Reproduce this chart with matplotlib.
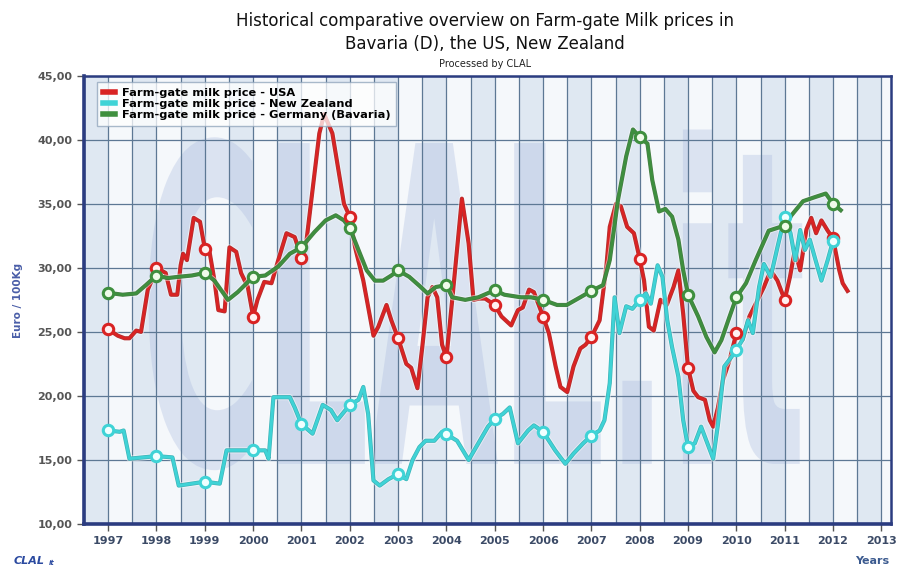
import numpy as np
import matplotlib
matplotlib.use("Agg")
import matplotlib.pyplot as plt
import matplotlib.patheffects as pe
from matplotlib.textpath import TextPath
from matplotlib.patches import PathPatch
from matplotlib.font_manager import FontProperties
from matplotlib.transforms import Affine2D

# ---------------- data (decimal year, Euro/100Kg) ----------------
usa_x = [1997.00, 1997.20, 1997.34, 1997.44, 1997.58, 1997.68, 1997.82, 1997.89, 1998.00, 1998.19,
         1998.30, 1998.43, 1998.50, 1998.55, 1998.63, 1998.77, 1998.90, 1999.00, 1999.10, 1999.20,
         1999.28, 1999.41, 1999.51, 1999.65, 1999.75, 1999.89, 2000.00, 2000.09, 2000.23, 2000.38,
         2000.52, 2000.69, 2000.86, 2001.00, 2001.10, 2001.37, 2001.47, 2001.64, 2001.88, 2002.00,
         2002.11, 2002.28, 2002.49, 2002.59, 2002.76, 2002.86, 2003.00, 2003.17, 2003.27, 2003.40,
         2003.50, 2003.61, 2003.71, 2003.81, 2003.91, 2004.00, 2004.12, 2004.32, 2004.46, 2004.56,
         2004.68, 2004.80, 2005.00, 2005.14, 2005.34, 2005.48, 2005.58, 2005.71, 2005.81, 2006.00,
         2006.12, 2006.26, 2006.36, 2006.50, 2006.63, 2006.77, 2006.88, 2007.00, 2007.17, 2007.31,
         2007.38, 2007.51, 2007.61, 2007.74, 2007.88, 2008.00, 2008.09, 2008.19, 2008.29, 2008.43,
         2008.56, 2008.70, 2008.80, 2008.90, 2009.00, 2009.11, 2009.21, 2009.35, 2009.45, 2009.52,
         2009.62, 2009.72, 2009.86, 2010.00, 2010.13, 2010.27, 2010.44, 2010.57, 2010.71, 2010.85,
         2011.00, 2011.11, 2011.21, 2011.32, 2011.45, 2011.55, 2011.65, 2011.76, 2011.89, 2012.00,
         2012.13, 2012.20, 2012.30]
usa_y = [25.2, 24.7, 24.5, 24.5, 25.1, 25.0, 28.3, 28.9, 30.0, 29.6,
         27.9, 27.9, 30.2, 31.1, 30.6, 33.9, 33.6, 31.5, 31.2, 29.0,
         26.7, 26.6, 31.6, 31.25, 29.6, 28.5, 26.2, 27.5, 28.9, 28.8,
         30.6, 32.7, 32.4, 30.8, 32.0, 40.5, 42.0, 40.5, 35.0, 34.0,
         31.6, 29.0, 24.7, 25.4, 27.1, 25.9, 24.5, 22.5, 22.2, 20.6,
         23.8, 27.7, 28.5, 27.7, 24.0, 23.0, 27.5, 35.4, 31.9, 27.5,
         27.6, 27.6, 27.1, 26.2, 25.5, 26.7, 26.9, 28.3, 28.1, 26.2,
         24.9, 22.3, 20.7, 20.3, 22.3, 23.7, 24.0, 24.6, 25.9, 30.1,
         33.2, 35.0, 34.8, 33.2, 32.7, 30.7, 29.0, 25.4, 25.1, 27.5,
         27.1, 28.5, 29.8, 26.4, 22.2, 20.4, 19.9, 19.7, 18.1, 17.6,
         19.1, 21.2, 22.8, 24.9, 24.4, 26.2, 27.5, 28.5, 29.8, 29.0,
         27.5, 29.3, 31.4, 29.8, 33.0, 33.9, 32.7, 33.7, 32.9, 32.3,
         29.8, 28.8, 28.2]

nz_x = [1997.00, 1997.24, 1997.32, 1997.44, 1998.00, 1998.33, 1998.46, 1999.00, 1999.31, 1999.45,
        2000.00, 2000.25, 2000.32, 2000.42, 2000.76, 2000.86, 2001.00, 2001.23, 2001.44, 2001.61,
        2001.74, 2002.00, 2002.18, 2002.28, 2002.38, 2002.49, 2002.62, 2002.80, 2003.00, 2003.17,
        2003.30, 2003.44, 2003.57, 2003.75, 2003.91, 2004.00, 2004.22, 2004.46, 2004.66, 2004.86,
        2005.00, 2005.17, 2005.31, 2005.48, 2005.69, 2005.81, 2006.00, 2006.25, 2006.46, 2006.63,
        2006.83, 2007.00, 2007.17, 2007.27, 2007.38, 2007.48, 2007.58, 2007.72, 2007.85, 2008.00,
        2008.13, 2008.23, 2008.37, 2008.47, 2008.57, 2008.67, 2008.80, 2008.90, 2009.00, 2009.14,
        2009.27, 2009.38, 2009.52, 2009.62, 2009.75, 2009.89, 2010.00, 2010.13, 2010.24, 2010.34,
        2010.47, 2010.57, 2010.71, 2010.85, 2011.00, 2011.12, 2011.22, 2011.32, 2011.42, 2011.52,
        2011.62, 2011.76, 2011.89, 2012.00]
nz_y = [17.3, 17.2, 17.3, 15.1, 15.3, 15.2, 13.0, 13.3, 13.15, 15.75,
        15.75, 15.75, 15.1, 19.9, 19.9, 19.1, 17.8, 17.05, 19.3, 18.9,
        18.1, 19.3, 19.7, 20.7, 18.6, 13.4, 13.0, 13.5, 13.9, 13.5,
        15.0, 16.0, 16.5, 16.5, 17.2, 17.0, 16.5, 15.0, 16.3, 17.6,
        18.2, 18.6, 19.1, 16.3, 17.3, 17.7, 17.2, 15.75, 14.7, 15.5,
        16.3, 16.9, 17.3, 18.1, 21.0, 27.7, 24.9, 27.0, 26.8, 27.5,
        28.0, 27.2, 30.2, 29.3, 25.9, 23.8, 21.5, 18.1, 16.0, 16.3,
        17.6, 16.5, 15.1, 17.8, 22.3, 23.0, 23.6, 24.4, 25.9, 24.9,
        28.5, 30.3, 29.3, 31.6, 34.0, 32.7, 30.6, 32.95, 31.4, 32.2,
        30.85, 29.0, 30.6, 32.1]

de_x = [1997.00, 1997.30, 1997.58, 1997.78, 1998.00, 1998.23, 1998.46, 1998.73, 1999.00, 1999.20,
        1999.48, 1999.68, 2000.00, 2000.25, 2000.52, 2000.76, 2001.00, 2001.27, 2001.50, 2001.71,
        2001.88, 2002.00, 2002.18, 2002.35, 2002.52, 2002.69, 2002.86, 2003.00, 2003.23, 2003.44,
        2003.61, 2003.78, 2004.00, 2004.12, 2004.39, 2004.66, 2005.00, 2005.20, 2005.54, 2005.75,
        2006.00, 2006.29, 2006.49, 2006.77, 2007.00, 2007.24, 2007.38, 2007.55, 2007.72, 2007.86,
        2008.00, 2008.16, 2008.26, 2008.40, 2008.53, 2008.67, 2008.80, 2008.90, 2009.00, 2009.21,
        2009.38, 2009.55, 2009.69, 2009.86, 2010.00, 2010.20, 2010.40, 2010.67, 2011.00, 2011.14,
        2011.38, 2011.61, 2011.85, 2012.00, 2012.16]
de_y = [28.05, 27.9, 28.0, 28.65, 29.4, 29.2, 29.3, 29.4, 29.6, 29.0,
        27.5, 28.1, 29.3, 29.4, 30.1, 31.1, 31.6, 32.8, 33.7, 34.1,
        33.7, 33.1, 31.4, 29.8, 29.0, 29.0, 29.4, 29.8, 29.3, 28.6,
        28.0, 28.5, 28.65, 27.7, 27.5, 27.7, 28.25, 27.9, 27.7, 27.7,
        27.5, 27.1, 27.1, 27.7, 28.2, 28.65, 30.6, 35.3, 38.7, 40.8,
        40.2, 39.7, 36.85, 34.4, 34.6, 34.0, 32.2, 29.8, 27.9, 26.2,
        24.6, 23.4, 24.35, 26.2, 27.7, 28.8, 30.6, 32.9, 33.3, 34.1,
        35.2, 35.5, 35.8, 35.0, 34.5]

year_ticks = list(range(1997, 2014))
y_ticks = [10, 15, 20, 25, 30, 35, 40, 45]

series = [
    ("Farm-gate milk price - USA", usa_x, usa_y, "#d92323", "#a31212", "#fff0f0"),
    ("Farm-gate milk price - New Zealand", nz_x, nz_y, "#3fd3d6", "#22a8ad", "#f0ffff"),
    ("Farm-gate milk price - Germany (Bavaria)", de_x, de_y, "#3e8f3e", "#2a6a2a", "#f0fbea"),
]

# ---------------- figure ----------------
fig = plt.figure(figsize=(9.01, 5.69), dpi=100)
fig.patch.set_facecolor("white")
ax = fig.add_axes([84 / 901, 1 - 524 / 569, (891 - 84) / 901, (524 - 75.7) / 569])
x0, x1 = 1996.765, 2013.2
ax.set_xlim(x0, x1)
ax.set_ylim(10, 45)

# striped background (half-year bands)
ax.set_facecolor("#f4f7fb")
b = 1996.5
k = 0
while b < 2013.5:
    col = "#dfe8f2" if k % 2 == 0 else "#f5f8fb"
    ax.axvspan(b, b + 0.5, color=col, zorder=0, lw=0)
    b += 0.5
    k += 1

# watermark
fp = FontProperties(family="DejaVu Sans", weight="bold")
tp = TextPath((0, 0), "CLAL.it", size=1, prop=fp)
ext = tp.get_extents()
bx0, bx1, by0, by1 = 0.08, 0.89, 0.12, 0.88
sx = (bx1 - bx0) / ext.width
sy = (by1 - by0) / ext.height
tr = Affine2D().translate(-ext.x0, -ext.y0).scale(sx, sy).translate(bx0, by0) + ax.transAxes
ax.add_patch(PathPatch(tp, transform=tr, facecolor="#a7b8de", edgecolor="none",
                       alpha=0.32, zorder=0.5))

# grid
ax.set_xticks(year_ticks)
ax.set_xticks(np.arange(1996.5, 2013.3, 0.5), minor=True)
ax.set_yticks(y_ticks)
ax.grid(which="both", axis="x", color="#5d7894", lw=0.9, zorder=1)
ax.grid(which="major", axis="y", color="#5d7894", lw=0.9, zorder=1)
ax.set_axisbelow(True)
ax.tick_params(axis="x", which="minor", length=0)

# series
for label, xs, ys, c, dark, face in series:
    ax.plot(xs, ys, color=c, lw=2.0, label=label, zorder=3, solid_joinstyle="round",
            path_effects=[pe.Stroke(linewidth=4.4, foreground="white", alpha=0.5),
                          pe.Stroke(linewidth=3.0, foreground=dark, alpha=0.85),
                          pe.Normal()])
    mx = [x for x in xs if abs(x - round(x)) < 1e-6]
    my = [y for x, y in zip(xs, ys) if abs(x - round(x)) < 1e-6]
    ax.plot(mx, my, ls="none", marker="o", ms=7.5, mfc=face, mec=c, mew=2.2, zorder=4)

# ticks and labels
ax.set_xticklabels([str(y) for y in year_ticks])
ax.set_yticklabels([("%.2f" % v).replace(".", ",") for v in y_ticks])
for t in ax.get_xticklabels():
    t.set_fontweight("bold")
    t.set_color("#3b4a66")
    t.set_fontsize(8)
for t in ax.get_yticklabels():
    t.set_fontweight("bold")
    t.set_color("#555555")
    t.set_fontsize(8)
ax.tick_params(axis="both", which="major", direction="out", length=5, color="#555555", width=1)
ax.tick_params(axis="x", pad=4)

for s in ["left", "bottom"]:
    ax.spines[s].set_color("#2b3c80")
    ax.spines[s].set_linewidth(2.6)
for s in ["top", "right"]:
    ax.spines[s].set_color("#2b3c80")
    ax.spines[s].set_linewidth(1.8)

# legend
leg = ax.legend(loc="upper left", bbox_to_anchor=(0.016, 0.986), borderaxespad=0,
                prop={"weight": "bold", "size": 8.2}, handlelength=1.1, handletextpad=0.6,
                labelspacing=0.12, borderpad=0.5, fancybox=False, framealpha=0.75,
                edgecolor="#8ea3ba")
for h in leg.get_lines():
    h.set_linewidth(4)
    h.set_path_effects([])
leg.get_frame().set_linewidth(1.0)
leg.set_zorder(5)

# texts
fig.text(0.538, 1 - 21 / 569, "Historical comparative overview on Farm-gate Milk prices in",
         ha="center", va="center", fontsize=12, color="#111111")
fig.text(0.538, 1 - 44 / 569, "Bavaria (D), the US, New Zealand",
         ha="center", va="center", fontsize=12, color="#111111")
fig.text(0.538, 1 - 64 / 569, "Processed by CLAL", ha="center", va="center",
         fontsize=7, color="#222222")
fig.text(18 / 901, 1 - 300 / 569, "Euro / 100Kg", rotation=90, ha="center", va="center",
         fontsize=7.5, fontweight="bold", color="#4a5ea8")
fig.text(872 / 901, 1 - 561 / 569, "Years", ha="center", va="center",
         fontsize=8, fontweight="bold", color="#3b5a8f")
fig.text(14 / 901, 1 - 561 / 569, "CLAL", ha="left", va="center",
         fontsize=8, fontweight="bold", color="#2b4aa0", style="italic")
fig.text(49 / 901, 1 - 563 / 569, "it", ha="left", va="center",
         fontsize=5, fontweight="bold", color="#2b4aa0", style="italic")

fig.savefig("out.png", dpi=100)
